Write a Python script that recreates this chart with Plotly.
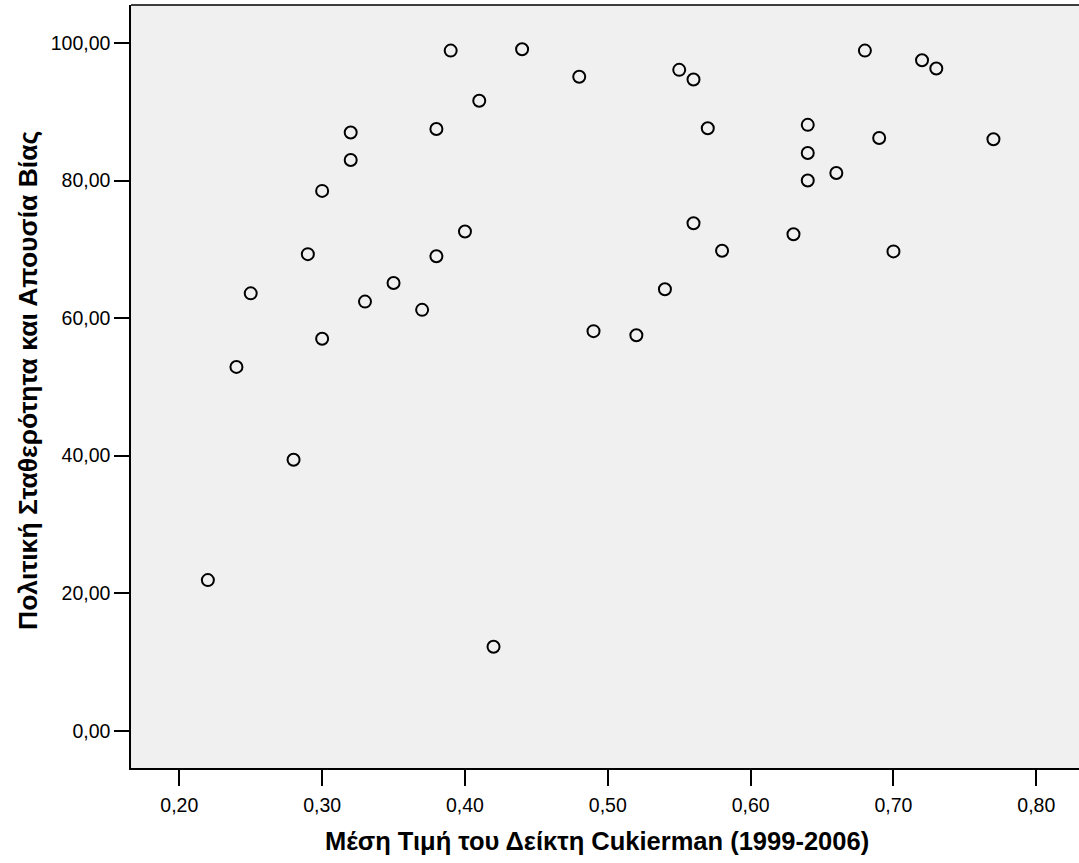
import plotly.graph_objects as go

cukierman = [0.22, 0.24, 0.25, 0.28, 0.29, 0.30, 0.30, 0.32, 0.32, 0.33,
             0.35, 0.37, 0.38, 0.38, 0.39, 0.40, 0.41, 0.42, 0.44, 0.48,
             0.49, 0.52, 0.54, 0.55, 0.56, 0.56, 0.57, 0.58, 0.63, 0.64,
             0.64, 0.64, 0.66, 0.68, 0.69, 0.70, 0.72, 0.73, 0.77]
stability = [21.9, 52.9, 63.6, 39.4, 69.3, 78.5, 57.0, 87.0, 83.0, 62.4,
             65.1, 61.2, 87.5, 69.0, 98.9, 72.6, 91.6, 12.2, 99.1, 95.1,
             58.1, 57.5, 64.2, 96.1, 94.7, 73.8, 87.6, 69.8, 72.2, 88.1,
             84.0, 80.0, 81.1, 98.9, 86.2, 69.7, 97.5, 96.3, 86.0]

x_ticks = [0.2, 0.3, 0.4, 0.5, 0.6, 0.7, 0.8]
y_ticks = [0, 20, 40, 60, 80, 100]

x_title = "Μέση Τιμή του Δείκτη Cukierman (1999-2006)"
y_title = "Πολιτική Σταθερότητα και Απουσία Βίας"

FONT = "Liberation Sans, Arial, sans-serif"
W, H = 1079, 863
ML, MR, MT, MB = 131, 0, 5, 95
PW, PH = W - ML - MR, H - MT - MB

fig = go.Figure()
fig.add_trace(go.Scatter(
    x=cukierman, y=stability, mode="markers",
    marker=dict(symbol="circle-open", size=12, color="black",
                line=dict(color="black", width=2)),
    showlegend=False, hoverinfo="x+y"))

fig.update_layout(
    width=W, height=H,
    margin=dict(l=ML, r=MR, t=MT, b=MB, pad=0),
    paper_bgcolor="white", plot_bgcolor="#F0F0F0",
    separators=",.",
    font=dict(family=FONT, size=19.5, color="black"),
    xaxis=dict(range=[0.16618, 0.8299], tickvals=x_ticks, tickformat=".2f",
               showgrid=False, zeroline=False, showline=True, linecolor="black",
               linewidth=1.5, ticks="outside", ticklen=16, tickwidth=2,
               tickcolor="black", ticklabelstandoff=3),
    yaxis=dict(range=[-5.424, 105.53], tickvals=y_ticks, tickformat=".2f",
               showgrid=False, zeroline=False, showline=True, linecolor="black",
               linewidth=1.5, ticks="outside", ticklen=15, tickwidth=2,
               tickcolor="black", ticklabelstandoff=0),
    shapes=[dict(type="line", xref="paper", yref="paper", x0=0, x1=1.01,
                 y0=1, y1=1, line=dict(color="black", width=1.5))],
    annotations=[
        dict(text="<b>%s</b>" % x_title, xref="paper", yref="paper",
             x=(597 - ML) / PW, y=-(841 - (H - MB)) / PH,
             xanchor="center", yanchor="middle", showarrow=False,
             font=dict(family=FONT, size=25.5, color="black")),
        dict(text="<b>%s</b>" % y_title, xref="paper", yref="paper",
             x=-(ML - 28) / PW, y=(H - MB - 381) / PH,
             xanchor="center", yanchor="middle", textangle=-90, showarrow=False,
             font=dict(family=FONT, size=26.5, color="black")),
    ],
)

fig.write_html("out.html", config={"displayModeBar": False},
               post_script="document.body.style.margin='0';")
